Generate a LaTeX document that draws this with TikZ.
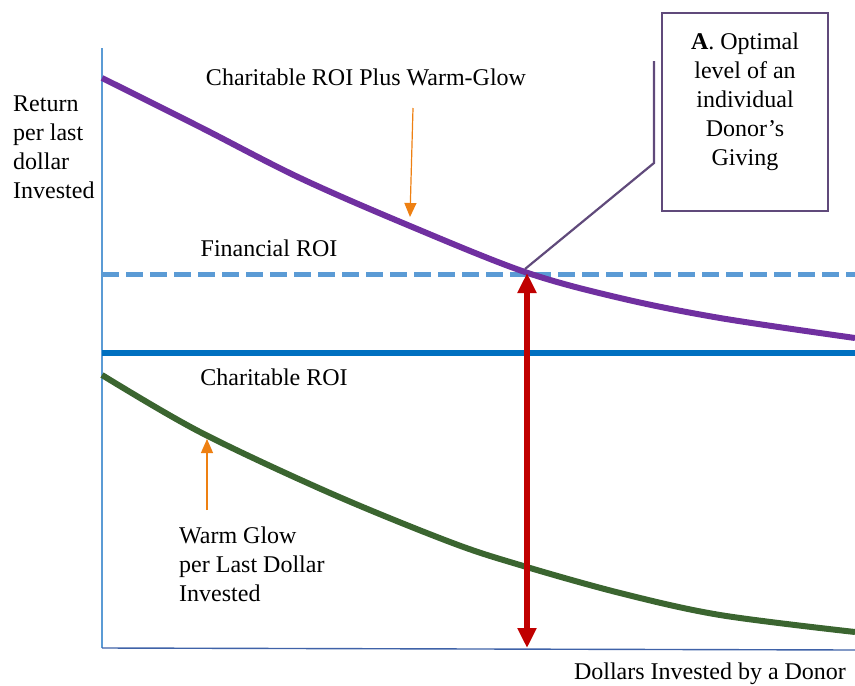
\documentclass[tikz,border=0pt]{standalone}
\usepackage{fontspec}
\setmainfont{Liberation Serif}
\usetikzlibrary{arrows.meta}
\definecolor{curvepurple}{HTML}{7030A0}
\definecolor{boxpurple}{HTML}{604A7B}
\definecolor{finblue}{HTML}{5B9BD5}
\definecolor{charblue}{HTML}{0070C0}
\definecolor{glowgreen}{HTML}{3B6530}
\definecolor{arrowred}{HTML}{C00000}
\definecolor{pointorange}{HTML}{EE8012}
\definecolor{xaxisblue}{HTML}{3F62A8}
\tikzset{
  lbl/.style={font=\fontsize{24}{29}\selectfont, inner sep=0pt},
  curveline/.style={line width=6pt, line join=round},
  pointer/.style={pointorange, line width=1.2pt, -{Triangle[width=12pt,length=14pt]}},
  levelarrow/.style={arrowred, line width=6pt, {Triangle[width=18pt,length=20pt]}-{Triangle[width=18pt,length=20pt]}},
}
\begin{document}
\begin{tikzpicture}[x=1pt,y=-1pt]
\useasboundingbox (0,0) rectangle (855,686);
% axes
\coordinate (ytop) at (102,48);
\coordinate (origin) at (102,648);
\coordinate (xend) at (855,650);
\draw[finblue, line width=1.8pt] (ytop) -- (origin);
\draw[xaxisblue, line width=1.4pt] (origin) -- (xend);
% horizontal levels
\coordinate (finL) at (102,274);
\coordinate (finR) at (855,274);
\draw[finblue, line width=5pt, dash pattern=on 17pt off 7pt] (finL) -- (finR);
\coordinate (charL) at (102,353);
\coordinate (charR) at (855,353);
\draw[charblue, line width=6pt] (charL) -- (charR);
% curves
\draw[curveline, curvepurple] plot[smooth, tension=0.55] coordinates {(102,78) (200,127) (300,178) (410,226) (525,272) (620,298) (720,318) (855,338)};
\draw[curveline, glowgreen] plot[smooth, tension=0.55] coordinates {(102,375) (200,432) (330,493) (450,542) (520,565) (620,593) (720,615) (855,632)};
% red double arrow
\coordinate (opt) at (527,273);
\coordinate (optbase) at (527,648);
\draw[levelarrow] (opt) -- (optbase);
% box
\node[draw=boxpurple, line width=2.2pt, minimum width=166pt, minimum height=198pt, inner sep=0pt] (box) at (745,112) {};
\node[lbl, align=center] (boxtext) at (745,102) {\textbf{A}. Optimal\\level of an\\individual\\Donor’s\\Giving};
\coordinate (bend) at (654,163);
\coordinate (lineTop) at (654,61);
\coordinate (optpt) at (525,269);
\draw[boxpurple, line width=2.2pt] (optpt) -- (bend) -- (lineTop);
% labels
\node[lbl] (plusLbl) at (366,77) {Charitable ROI Plus Warm-Glow};
\node[lbl] (finLbl) at (269,248) {Financial ROI};
\node[lbl] (charLbl) at (274,377) {Charitable ROI};
\node[lbl, align=left, anchor=west] (glowLbl) at (179,564) {Warm Glow\\per Last Dollar\\Invested};
\node[lbl, align=left, anchor=west] (yLbl) at (13,147) {Return\\per last\\dollar\\Invested};
\node[lbl] (xLbl) at (710,674) {Dollars Invested by a Donor};
% orange pointers
\coordinate (p1s) at (413,108);
\coordinate (p1e) at (410,217);
\draw[pointer] (p1s) -- (p1e);
\coordinate (p2s) at (207,510);
\coordinate (p2e) at (207,439);
\draw[pointer] (p2s) -- (p2e);
\end{tikzpicture}
\end{document}
